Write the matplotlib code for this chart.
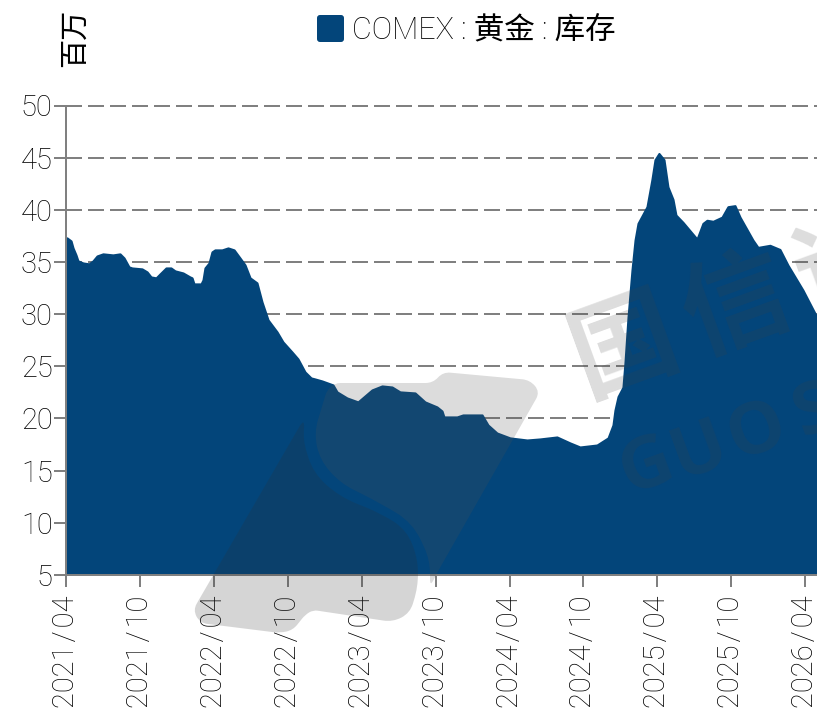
import numpy as np
import matplotlib
matplotlib.use('Agg')
import matplotlib.pyplot as plt
from matplotlib.patches import FancyBboxPatch, PathPatch
from matplotlib.path import Path

# months since 2021/04
MONTHS = [0, .08, .41, .57, .81, .97, 1.38, 1.87, 2.19, 2.52, 3.0, 3.81, 4.38, 4.71, 5.11, 5.36, 6.17,
          6.58, 6.9, 7.31, 7.63, 8.12, 8.52, 8.85, 9.5, 10.06, 10.23, 10.39, 10.96, 11.12, 11.28,
          11.61, 11.85, 12.09, 12.66, 13.15, 13.64, 14.12, 14.53, 14.94, 15.5, 15.91, 16.4, 17.13,
          17.61, 18.34, 18.83, 19.4, 19.89, 20.21, 20.78, 21.67, 22.0, 22.81, 23.7, 24.84, 25.65,
          26.46, 27.11, 28.33, 29.14, 30.11, 30.52, 30.68, 31.74, 32.22, 32.79, 33.77, 34.25, 34.98,
          36.04, 37.42, 38.47, 39.85, 40.91, 41.72, 43.1, 44.0, 44.4,
          44.56, 44.81, 45.21, 45.37, 45.62, 45.94, 46.19, 46.43, 47.16, 47.56,
          47.81, 48.13, 48.54, 48.86, 49.27, 49.51, 50.08, 51.22, 51.7, 52.03, 52.52, 53.25,
          53.73, 54.3, 54.71, 55.76, 56.17, 57.14, 57.95, 58.6, 59.82, 60.96]
STOCK = [37.31, 37.31, 37.02, 36.35, 35.68, 35.11, 34.91, 34.82, 35.11, 35.58, 35.78, 35.68, 35.78, 35.39,
         34.53, 34.43, 34.34, 34.05, 33.57, 33.48, 33.86, 34.43, 34.43, 34.15, 33.95, 33.57, 33.48, 32.9,
         32.9, 33.28, 34.43, 34.91, 35.97, 36.16, 36.16, 36.35, 36.16, 35.39, 34.72, 33.48, 33.0, 31.17,
         29.45, 28.3, 27.34, 26.38, 25.71, 24.46, 23.89, 23.79, 23.6, 23.22, 22.55, 21.97, 21.59, 22.74,
         23.12, 23.02, 22.55, 22.45, 21.59, 21.11, 20.72, 20.15, 20.15, 20.34, 20.34, 20.34, 19.38, 18.61,
         18.14, 17.94, 18.04, 18.23, 17.66, 17.27, 17.46, 18.14, 19.38,
         20.8, 22.1, 23.0, 25.3, 29.7, 34.2, 37.1, 38.7, 40.3, 42.9,
         44.8, 45.4, 44.8, 42.2, 41.0, 39.5, 38.8, 37.2, 38.7, 39.0, 38.9, 39.3,
         40.3, 40.4, 39.3, 37.1, 36.4, 36.6, 36.2, 34.7, 32.3, 29.7]
X_TICKS = [0, 6, 12, 18, 24, 30, 36, 42, 48, 54, 60]
X_LABELS = ['2021/04', '2021/10', '2022/04', '2022/10', '2023/04', '2023/10',
            '2024/04', '2024/10', '2025/04', '2025/10', '2026/04']
Y_TICKS = [5, 10, 15, 20, 25, 30, 35, 40, 45, 50]
SERIES_NAME = 'COMEX : 黄金 : 库存'
UNIT = '百万'

# watermark outlines, in picture pixels
LOGO_UPPER = [(327, 390), (335, 383), (433, 383), (443, 372), (530, 380), (540, 392), (437, 573),
              (430, 587), (430, 560), (413, 523), (380, 503), (340, 483), (320, 460), (314, 433)]
LOGO_LOWER = [(305, 417), (193, 610), (200, 623), (280, 633), (293, 630), (305, 615), (313, 610),
              (393, 622), (410, 613), (418, 587), (418, 560), (407, 530), (380, 513), (340, 497),
              (313, 473), (303, 440)]

W, H = 817, 715
BLUE = '#03457a'
GRAY = '#808080'
INK = '#000000'
plt.rcParams['font.family'] = ['Roboto', 'Noto Sans CJK SC', 'DejaVu Sans']
plt.rcParams['font.weight'] = 'light'


def rounded(points, r=30):
    verts, codes = [], []
    pts = np.array(points, float)
    n = len(pts)
    for i in range(n):
        p, a, b = pts[i], pts[i - 1], pts[(i + 1) % n]
        d1, d2 = np.linalg.norm(a - p), np.linalg.norm(b - p)
        c = min(r, d1 / 2, d2 / 2)
        s = p + (a - p) / d1 * c
        e = p + (b - p) / d2 * c
        verts += [s, p, e]
        codes += [Path.MOVETO if i == 0 else Path.LINETO, Path.CURVE3, Path.CURVE3]
    verts.append(verts[0])
    codes.append(Path.CLOSEPOLY)
    return Path(verts, codes)


def main():
    fig = plt.figure(figsize=(W / 100, H / 100), dpi=100)
    ax = fig.add_axes([66 / W, 1 - 575 / H, (W - 66) / W, (575 - 105.5) / H])
    ax.fill_between(MONTHS, STOCK, 5, color=BLUE, lw=1.5, joinstyle='round', zorder=3)
    ax.set_xlim(0, 60.96)
    ax.set_ylim(5, 50)
    ax.set_xticks(X_TICKS)
    ax.set_xticklabels([s.replace('/', '\u200a/\u200a') for s in X_LABELS],
                       rotation=90, fontsize=21, color=INK)
    ax.set_yticks(Y_TICKS)
    ax.tick_params(axis='y', labelsize=21, labelcolor=INK, length=8.6, width=1.44, color=GRAY, pad=1)
    ax.tick_params(axis='x', length=8.6, width=1.44, color=GRAY, pad=6)
    for y in Y_TICKS[1:]:
        ax.axhline(y, color=GRAY, lw=1.44, ls=(0, (8, 3)), zorder=1, clip_on=False)
    for s in ['top', 'right']:
        ax.spines[s].set_visible(False)
    for s in ['left', 'bottom']:
        ax.spines[s].set_color(GRAY)
        ax.spines[s].set_linewidth(1.44)
        ax.spines[s].set_zorder(4)

    # pixel overlay for legend, unit and watermark
    ov = fig.add_axes([0, 0, 1, 1], zorder=5)
    ov.set_xlim(0, W)
    ov.set_ylim(H, 0)
    ov.axis('off')
    ov.patch.set_alpha(0)
    ov.text(75, 38, UNIT, rotation=90, fontsize=21, color=INK, ha='center', va='center')
    ov.add_patch(FancyBboxPatch((319, 17), 23, 23, boxstyle='round,pad=2,rounding_size=3',
                                fc=BLUE, ec='none'))
    ov.text(352, 30, SERIES_NAME, fontsize=22, color=INK, ha='left', va='center')

    ov.add_patch(PathPatch(rounded(LOGO_UPPER), fc='#505050', ec='none', alpha=0.2))
    ov.add_patch(PathPatch(rounded(LOGO_LOWER), fc='#303030', ec='none', alpha=0.2))
    marks = [('国', 626, 350, 76), ('信', 737, 310, 76), ('证', 850, 270, 76),
             ('G', 647, 467, 52), ('U', 700, 452, 52), ('O', 757, 432, 52), ('S', 815, 412, 52)]
    for ch, x, y, size in marks:
        ov.text(x, y, ch, rotation=20, fontsize=size, fontweight='bold', color='#404040', alpha=0.18,
                family=['Open Sans', 'Noto Sans CJK SC'], ha='center', va='center',
                rotation_mode='anchor', clip_on=True)
    fig.savefig('out.png', dpi=100)


if __name__ == '__main__':
    main()
